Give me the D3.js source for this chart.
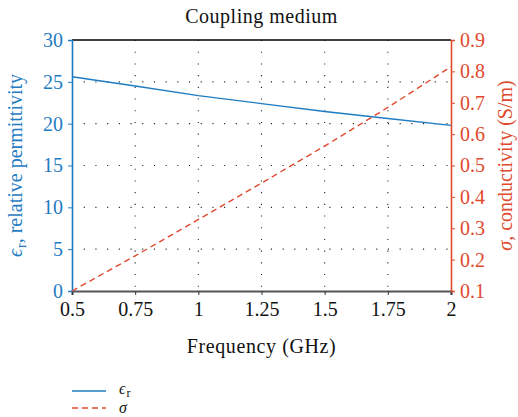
<!DOCTYPE html>
<html>
<head>
<meta charset="utf-8">
<script src="https://cdn.jsdelivr.net/npm/d3@7"></script>
<style>
  body { margin: 0; background: #fff; }
</style>
</head>
<body>
<svg id="chart" width="518" height="417"></svg>
<script>
// values
var freq = [0.5, 0.75, 1, 1.25, 1.5, 1.75, 2];
var permittivity = [25.6, 24.5, 23.35, 22.4, 21.45, 20.62, 19.8];
var conductivity = [0.1, 0.212, 0.328, 0.444, 0.562, 0.685, 0.815];

var xTicks = [0.5, 0.75, 1, 1.25, 1.5, 1.75, 2];
var leftTicks = [0, 5, 10, 15, 20, 25, 30];
var rightTicks = [0.1, 0.2, 0.3, 0.4, 0.5, 0.6, 0.7, 0.8, 0.9];

var blue = "#1f7cc2";
var red = "#e0492e";
var serif = "Liberation Serif";
var fs = "20px";

var svg = d3.select("#chart");
var margin = { left: 72, right: 67, top: 40, bottom: 126 };
var W = 518, H = 417;

var x = d3.scaleLinear().domain([0.5, 2]).range([margin.left, W - margin.right]);
var yL = d3.scaleLinear().domain([0, 30]).range([H - margin.bottom, margin.top]);
var yR = d3.scaleLinear().domain([0.1, 0.9]).range([H - margin.bottom, margin.top]);

// dotted grid
svg.append("g")
    .selectAll("line")
    .data(xTicks.slice(1, -1))
    .join("line")
    .attr("x1", d => x(d)).attr("x2", d => x(d))
    .attr("y1", yL(30)).attr("y2", yL(0))
    .attr("stroke", "#222")
    .attr("stroke-width", 1.1)
    .attr("stroke-dasharray", "1.1 10.6");

svg.append("g")
    .selectAll("line")
    .data(leftTicks.slice(1, -1))
    .join("line")
    .attr("x1", x(0.5)).attr("x2", x(2))
    .attr("y1", d => yL(d)).attr("y2", d => yL(d))
    .attr("stroke", "#222")
    .attr("stroke-width", 1.1)
    .attr("stroke-dasharray", "1.1 10.6");

// top border
svg.append("line")
    .attr("x1", x(0.5)).attr("x2", x(2))
    .attr("y1", yL(30)).attr("y2", yL(30))
    .attr("stroke", "#000").attr("stroke-width", 1.3);

// axes
var xAxis = d3.axisBottom(x).tickValues(xTicks).tickFormat(d3.format("~g")).tickSizeOuter(0).tickSize(4).tickPadding(7);
var gx = svg.append("g").attr("transform", "translate(0," + yL(0) + ")").call(xAxis);
gx.attr("font-family", serif);
gx.select(".domain").attr("stroke", "#555").attr("stroke-width", 2.2);
gx.selectAll(".tick line").attr("stroke", "#333");
gx.selectAll("text").attr("fill", "#111").style("font-family", serif).style("font-size", fs);

var lAxis = d3.axisLeft(yL).tickValues(leftTicks).tickSizeOuter(0).tickSize(4).tickPadding(5);
var gl = svg.append("g").attr("transform", "translate(" + x(0.5) + ",0)").call(lAxis);
gl.attr("font-family", serif);
gl.select(".domain").attr("stroke", blue).attr("stroke-width", 1.6);
gl.selectAll(".tick line").attr("stroke", blue);
gl.selectAll("text").attr("fill", blue).style("font-family", serif).style("font-size", fs);

var rAxis = d3.axisRight(yR).tickValues(rightTicks).tickFormat(d3.format(".1f")).tickSizeOuter(0).tickSize(4).tickPadding(5);
var gr = svg.append("g").attr("transform", "translate(" + x(2) + ",0)").call(rAxis);
gr.attr("font-family", serif);
gr.select(".domain").attr("stroke", red).attr("stroke-width", 1.6);
gr.selectAll(".tick line").attr("stroke", red);
gr.selectAll("text").attr("fill", red).style("font-family", serif).style("font-size", fs);

// lines
var epsLine = d3.line().x((d, i) => x(freq[i])).y(d => yL(d));
var sigLine = d3.line().x((d, i) => x(freq[i])).y(d => yR(d));

svg.append("path")
    .datum(permittivity)
    .attr("d", epsLine)
    .attr("fill", "none")
    .attr("stroke", blue)
    .attr("stroke-width", 1.4);

svg.append("path")
    .datum(conductivity)
    .attr("d", sigLine)
    .attr("fill", "none")
    .attr("stroke", red)
    .attr("stroke-width", 1.4)
    .attr("stroke-dasharray", "6 4");

// title
svg.append("text")
    .attr("x", (x(0.5) + x(2)) / 2)
    .attr("y", 23)
    .attr("text-anchor", "middle")
    .attr("fill", "#111")
    .style("font-family", serif)
    .style("font-size", fs)
    .style("letter-spacing", "0.5px")
    .text("Coupling medium");

// x label
svg.append("text")
    .attr("x", (x(0.5) + x(2)) / 2)
    .attr("y", 353)
    .attr("text-anchor", "middle")
    .attr("fill", "#111")
    .style("font-family", serif)
    .style("font-size", fs)
    .style("letter-spacing", "0.6px")
    .text("Frequency (GHz)");

// left label
var ll = svg.append("text")
    .attr("transform", "translate(22," + ((yL(0) + yL(30)) / 2) + ") rotate(-90)")
    .attr("text-anchor", "middle")
    .attr("fill", blue)
    .style("font-family", serif)
    .style("font-size", fs);
ll.append("tspan").style("font-style", "italic").text("\u03f5");
ll.append("tspan").attr("dx", 1).attr("dy", 4).style("font-size", "14px").text("r");
ll.append("tspan").attr("dy", -4).text(", relative permittivity");

// right label
var rl = svg.append("text")
    .attr("transform", "translate(512," + ((yR(0.1) + yR(0.9)) / 2) + ") rotate(-90)")
    .attr("text-anchor", "middle")
    .attr("fill", red)
    .style("font-family", serif)
    .style("font-size", fs);
rl.append("tspan").style("font-style", "italic").text("\u03c3");
rl.append("tspan").text(", conductivity (S/m)");

// legend
var legend = svg.append("g").attr("transform", "translate(72,391)");
legend.append("line").attr("x1", 0).attr("x2", 34).attr("y1", 0).attr("y2", 0)
    .attr("stroke", blue).attr("stroke-width", 1.4);
legend.append("line").attr("x1", 0).attr("x2", 34).attr("y1", 17).attr("y2", 17)
    .attr("stroke", red).attr("stroke-width", 1.4).attr("stroke-dasharray", "6 4");
var lt = legend.append("text").attr("fill", "#111")
    .style("font-family", serif).style("font-size", "16px");
lt.append("tspan").attr("x", 47).attr("y", 3).style("font-style", "italic").text("\u03f5");
lt.append("tspan").attr("dx", 1).attr("dy", 3).style("font-size", "12px").text("r");
lt.append("tspan").attr("x", 47).attr("y", 22).style("font-style", "italic").text("\u03c3");
</script>
</body>
</html>
